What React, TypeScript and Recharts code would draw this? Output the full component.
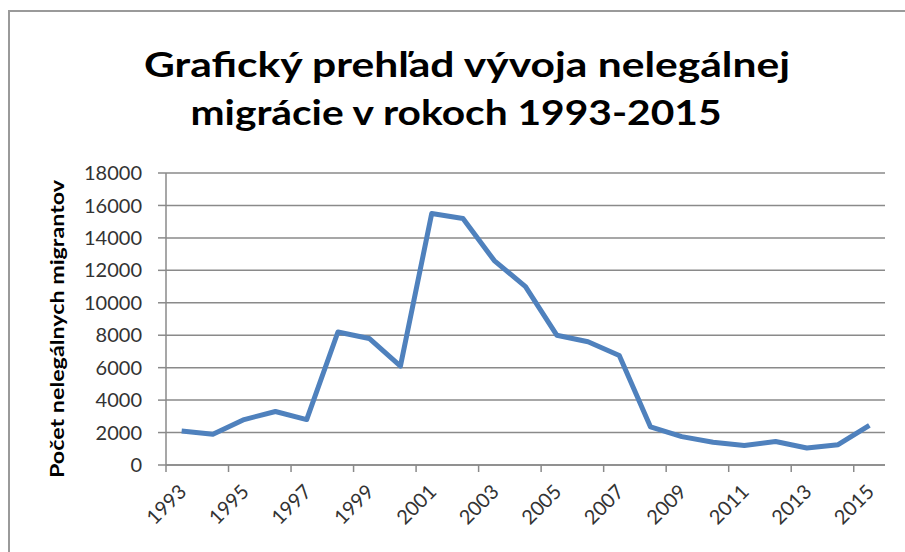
import { LineChart, Line, XAxis, YAxis, CartesianGrid } from "recharts";

// Excel-style line chart: illegal migration in Slovakia 1993-2015

const years = [
  "1993", "1994", "1995", "1996", "1997", "1998", "1999", "2000",
  "2001", "2002", "2003", "2004", "2005", "2006", "2007", "2008",
  "2009", "2010", "2011", "2012", "2013", "2014", "2015",
];

const migrants = [
  2100, 1900, 2800, 3300, 2800, 8200, 7800, 6100,
  15500, 15200, 12600, 11000, 8000, 7600, 6750, 2350,
  1750, 1400, 1200, 1450, 1050, 1250, 2450,
];

const yTicks = [0, 2000, 4000, 6000, 8000, 10000, 12000, 14000, 16000, 18000];

const titleLines = ["Grafický prehľad vývoja nelegálnej", "migrácie v rokoch 1993-2015"];
const yTitle = "Počet nelegálnych migrantov";

const data = years.map((year, i) => ({ year, value: migrants[i] }));

const W = 905;
const H = 552;
const PLOT_LEFT = 166;
const PLOT_RIGHT = 885;
const GRID = "#8a8a8a";
const FONT = "Lato, 'Open Sans', sans-serif";

function YearTick(props: any) {
  const { x, y, payload, index } = props;
  if (index % 2 !== 0) return <g />;
  const half = (PLOT_RIGHT - PLOT_LEFT) / years.length / 2;
  const tx = x + 6;
  const ty = y + 28;
  return (
    <g>
      <line x1={x - half} x2={x - half} y1={y} y2={y + 7} stroke={GRID} strokeWidth={1.5} />
      <text
        x={tx}
        y={ty}
        textAnchor="end"
        transform={`rotate(-45 ${tx} ${ty})`}
        fill="#333"
        fontSize={20}
        fontFamily={FONT}
      >
        {payload.value}
      </text>
    </g>
  );
}

export default function App() {
  return (
    <div style={{ position: "fixed", left: 0, top: 0, width: W, height: H, background: "#fff" }}>
      <div
        style={{
          position: "absolute",
          left: 8,
          top: 10,
          width: W,
          height: H,
          borderTop: "2px solid #9a9a9a",
          borderLeft: "2px solid #9a9a9a",
        }}
      />
      <svg width={W} height={H} style={{ position: "absolute", left: 0, top: 0 }}>
        <text
          x={467}
          y={77}
          textAnchor="middle"
          textLength={646}
          lengthAdjust="spacingAndGlyphs"
          fontSize={35}
          fontWeight={700}
          fontFamily={FONT}
          fill="#000"
        >
          {titleLines[0]}
        </text>
        <text
          x={456}
          y={125}
          textAnchor="middle"
          textLength={531}
          lengthAdjust="spacingAndGlyphs"
          fontSize={35}
          fontWeight={700}
          fontFamily={FONT}
          fill="#000"
        >
          {titleLines[1]}
        </text>
        <text
          x={64}
          y={329}
          textAnchor="middle"
          transform="rotate(-90 64 329)"
          textLength={298}
          lengthAdjust="spacingAndGlyphs"
          fontSize={18}
          fontWeight={700}
          fontFamily={FONT}
          fill="#000"
        >
          {yTitle}
        </text>
      </svg>
      <div style={{ position: "absolute", left: 0, top: 0 }}>
        <LineChart
          width={W}
          height={H}
          data={data}
          margin={{ top: 173, right: W - PLOT_RIGHT, bottom: 27, left: 86 }}
        >
          <CartesianGrid horizontal vertical={false} stroke={GRID} strokeWidth={1.5} />
          <XAxis
            dataKey="year"
            type="category"
            scale="band"
            height={60}
            interval={0}
            tickLine={false}
            tickSize={0}
            tickMargin={0}
            axisLine={{ stroke: GRID, strokeWidth: 1.5 }}
            tick={<YearTick />}
          />
          <YAxis
            width={80}
            domain={[0, 18000]}
            ticks={yTicks}
            interval={0}
            tickSize={8}
            tickMargin={16}
            tickLine={{ stroke: GRID, strokeWidth: 1.5 }}
            axisLine={{ stroke: GRID, strokeWidth: 1.5 }}
            tick={{ fill: "#333", fontSize: 20, fontFamily: FONT }}
          />
          <Line
            type="linear"
            dataKey="value"
            stroke="#4F81BD"
            strokeWidth={5}
            strokeLinejoin="round"
            dot={false}
            activeDot={false}
            isAnimationActive={false}
          />
        </LineChart>
      </div>
    </div>
  );
}
